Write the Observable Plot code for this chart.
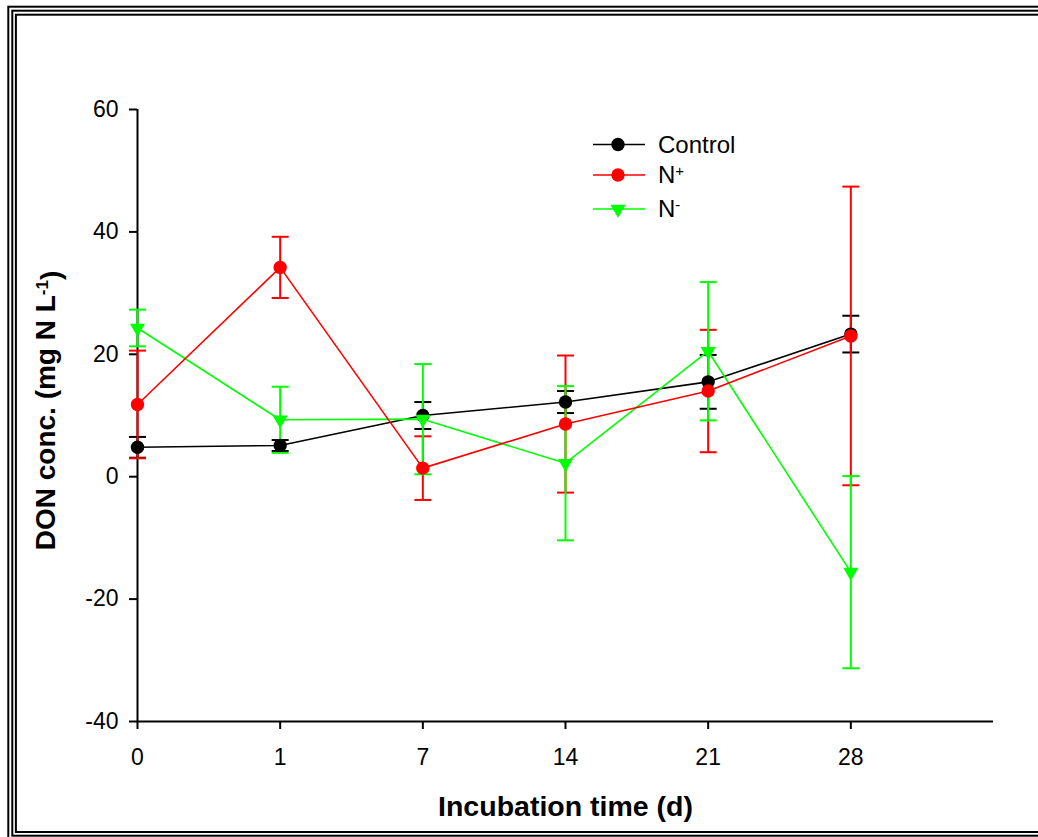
<!DOCTYPE html>
<html>
<head>
<meta charset="utf-8">
<script src="https://cdn.jsdelivr.net/npm/d3@7"></script>
<script src="https://cdn.jsdelivr.net/npm/@observablehq/plot@0.6"></script>
<style>
  html, body { margin: 0; padding: 0; background: #fff; }
  #wrap { position: relative; width: 1038px; height: 837px; overflow: hidden; background: #fff; }
  #wrap > svg { position: absolute; left: 0; top: 0; }
  #legend { position: absolute; left: 0; top: 0; }
  #border { position: absolute; left: 0; top: 0; pointer-events: none; }
</style>
</head>
<body>
<div id="wrap"></div>
<script>
// Sampling days (categorical positions on the x axis)
const days = ["0", "1", "7", "14", "21", "28"];

// Series names and colours
const seriesNames = ["Control", "N+", "N-"];
const seriesColors = ["#000000", "#ff0000", "#00ff00"];

// DON concentration (mg N L-1): means and error half-widths
const controlMean = [4.8, 5.1, 10.0, 12.2, 15.5, 23.3];
const controlErr  = [1.7, 0.9, 2.2, 1.8, 4.4, 3.0];
const nPlusMean   = [11.8, 34.2, 1.4, 8.6, 14.0, 23.0];
const nPlusErr    = [8.8, 5.0, 5.2, 11.2, 10.0, 24.4];
const nMinusMean  = [24.3, 9.3, 9.4, 2.2, 20.5, -15.6];
const nMinusErr   = [3.0, 5.4, 9.0, 12.6, 11.3, 15.7];

const yTicks = [-40, -20, 0, 20, 40, 60];

const means = [controlMean, nPlusMean, nMinusMean];
const errs = [controlErr, nPlusErr, nMinusErr];
const rows = seriesNames.flatMap((s, k) =>
  days.map((d, i) => ({ series: s, i, day: d, mean: means[k][i], err: errs[k][i] }))
);
const bySeries = (s) => rows.filter((r) => r.series === s);
const colorOf = (s) => seriesColors[seriesNames.indexOf(s)];

// Horizontal bar used as an error-bar cap
const capSymbol = {
  draw(ctx, size) {
    const w = Math.sqrt(size / Math.PI);
    ctx.moveTo(-w, 0);
    ctx.lineTo(w, 0);
  }
};
// Downward-pointing triangle
const triangleDown = {
  draw(ctx, size) {
    const y = Math.sqrt(size / (3 * Math.sqrt(3)));
    ctx.moveTo(0, 2 * y);
    ctx.lineTo(-Math.sqrt(3) * y, -y);
    ctx.lineTo(Math.sqrt(3) * y, -y);
    ctx.closePath();
  }
};

const font = "'Liberation Sans', Arial, Helvetica, sans-serif";

const errorMarks = seriesNames.flatMap((s) => {
  const data = bySeries(s);
  const c = colorOf(s);
  return [
    Plot.ruleX(data, { x: "i", y1: (d) => d.mean - d.err, y2: (d) => d.mean + d.err, stroke: c, strokeWidth: 2 }),
    Plot.dot(data, { x: "i", y: (d) => d.mean + d.err, symbol: capSymbol, r: 8.5, stroke: c, fill: "none", strokeWidth: 2 }),
    Plot.dot(data, { x: "i", y: (d) => d.mean - d.err, symbol: capSymbol, r: 8.5, stroke: c, fill: "none", strokeWidth: 2 })
  ];
});

const lineMarks = ["Control", "N-", "N+"].flatMap((s) => {
  const data = bySeries(s);
  const c = colorOf(s);
  return [
    Plot.line(data, { x: "i", y: "mean", stroke: c, strokeWidth: 1.6 }),
    s === "N-"
      ? Plot.dot(data, { x: "i", y: "mean", symbol: triangleDown, r: 5.6, fill: c, stroke: "none" })
      : Plot.dot(data, { x: "i", y: "mean", r: 6.7, fill: c, stroke: "none" })
  ];
});

const chart = Plot.plot({
  width: 1038,
  height: 837,
  marginLeft: 137,
  marginRight: 45,
  marginTop: 109,
  marginBottom: 116,
  style: { fontFamily: font, fontSize: "23px", color: "#000", background: "transparent", overflow: "visible" },
  x: { domain: [0, 6] },
  y: { domain: [-40, 60] },
  marks: [
    Plot.axisY({ ticks: yTicks, tickFormat: (v) => String(v), tickSize: 8, tickPadding: 11, strokeWidth: 2, label: null, fontSize: 23 }),
    Plot.axisX({ ticks: d3.range(days.length), tickFormat: (i) => days[i], tickSize: 8, tickPadding: 19, strokeWidth: 2, label: null, fontSize: 23 }),
    Plot.ruleX([0], { stroke: "#000", strokeWidth: 2 }),
    Plot.ruleY([-40], { stroke: "#000", strokeWidth: 2 }),
    ...errorMarks,
    ...lineMarks,
    Plot.text(["Incubation time (d)"], { frameAnchor: "bottom", dy: 85, textAnchor: "middle", lineAnchor: "middle", fontSize: 28.5, fontWeight: "bold", fill: "#000" }),
    Plot.text(["DON conc. (mg N L-1)"], { frameAnchor: "left", dx: -91, dy: -5, rotate: -90, textAnchor: "middle", lineAnchor: "middle", fontSize: 28, fontWeight: "bold", fill: "#000" })
  ]
});

const wrap = document.getElementById("wrap");
wrap.appendChild(chart);

// Superscript for the unit in the y-axis title
d3.select(chart).selectAll("text").filter(function () { return this.textContent === "DON conc. (mg N L-1)"; })
  .each(function () {
    const t = d3.select(this);
    t.text(null);
    t.append("tspan").text("DON conc. (mg N L");
    t.append("tspan").attr("dy", "-0.45em").attr("font-size", "17px").text("-1");
    t.append("tspan").attr("dy", "0.45em").text(")");
  });

// Legend
const legend = d3.select(wrap).append("svg").attr("id", "legend").attr("width", 1038).attr("height", 837);
const rowY = [144.5, 175, 209];
seriesNames.forEach((s, k) => {
  const g = legend.append("g").attr("transform", `translate(0,${rowY[k]})`);
  const c = seriesColors[k];
  g.append("line").attr("x1", 593).attr("x2", 645).attr("y1", 0).attr("y2", 0).attr("stroke", c).attr("stroke-width", 1.6);
  if (s === "N-") {
    g.append("path").attr("transform", "translate(618,0)").attr("d", d3.symbol(triangleDown, 5.6 * 5.6 * Math.PI)()).attr("fill", c);
  } else {
    g.append("circle").attr("cx", 618).attr("cy", 0).attr("r", 6.7).attr("fill", c);
  }
  const t = g.append("text").attr("x", 658).attr("y", 0).attr("dy", "0.35em")
    .attr("font-family", font).attr("font-size", 24).attr("fill", "#000");
  if (s === "Control") {
    t.text("Control");
  } else {
    t.append("tspan").text("N");
    t.append("tspan").attr("dy", "-0.5em").attr("font-size", "15px").text(s === "N+" ? "+" : "-");
  }
});

// Triple-line page border
const border = d3.select(wrap).append("svg").attr("id", "border").attr("width", 1038).attr("height", 837);
[[8.3, 6.7, 839.5], [12.3, 10.7, 835.7], [15.9, 14.7, 832]].forEach(([x, y, b]) => {
  border.append("rect").attr("x", x).attr("y", y).attr("width", 1100).attr("height", b - y)
    .attr("fill", "none").attr("stroke", "#000").attr("stroke-width", 2);
});
</script>
</body>
</html>
